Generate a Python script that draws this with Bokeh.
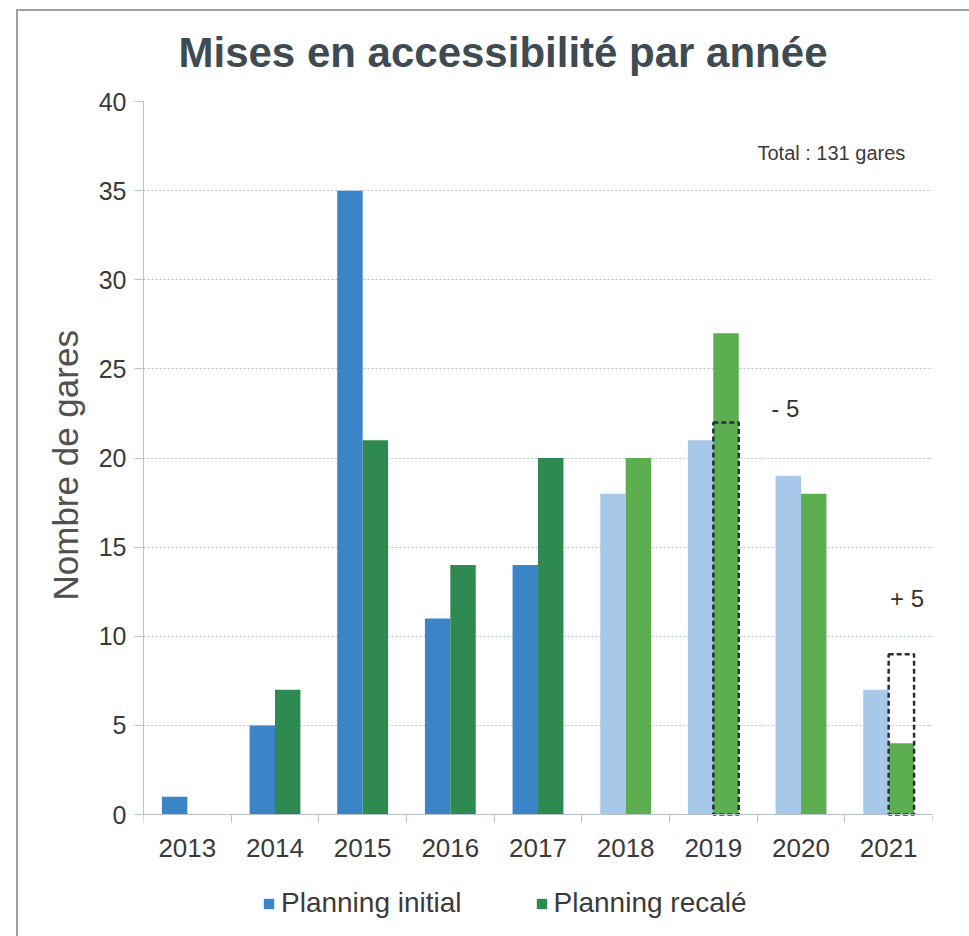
from bokeh.plotting import figure
from bokeh.models import (ColumnDataSource, FixedTicker, Label, Legend, LegendItem,
                          Range1d, Title, GlobalInlineStyleSheet)
from bokeh.transform import dodge
from bokeh.embed import file_html
from bokeh.resources import INLINE

# ---------------- data ----------------
years = ["2013", "2014", "2015", "2016", "2017", "2018", "2019", "2020", "2021"]
planning_initial = [1, 5, 35, 11, 14, 18, 21, 19, 7]
planning_recale = [0, 7, 21, 14, 20, 20, 27, 18, 4]
initial_colors = ["#3b84c8", "#3b84c8", "#3b84c8", "#3b84c8", "#3b84c8",
                  "#a8c8ea", "#a8c8ea", "#a8c8ea", "#a8c8ea"]
recale_colors = ["#2e8a50", "#2e8a50", "#2e8a50", "#2e8a50", "#2e8a50",
                 "#5cae50", "#5cae50", "#5cae50", "#5cae50"]
adj_years = ["2019", "2021"]
adj_shift = [-5, 5]
adj_texts = ["- 5", "+ 5"]
y_ticks = [0, 5, 10, 15, 20, 25, 30, 35, 40]
total_text = "Total : 131 gares"
title_text = "Mises en accessibilité par année"
y_label = "Nombre de gares"

# ---------------- sources ----------------
idx = [i + 0.5 for i in range(len(years))]
src = ColumnDataSource(dict(x=idx, year=years, initial=planning_initial,
                            recale=planning_recale, c_init=initial_colors,
                            c_rec=recale_colors))
adj_x = [idx[years.index(y)] for y in adj_years]
adj_top = [planning_recale[years.index(y)] + s for y, s in zip(adj_years, adj_shift)]
adj_src = ColumnDataSource(dict(x=adj_x, top=adj_top, txt=adj_texts))

W, H = 969, 936
frame_css = GlobalInlineStyleSheet(css="""
body::before { content: ""; position: fixed; left: 16px; top: 9px; right: -20px; bottom: -20px;
  border-left: 2px solid #a0a0a0; border-top: 2px solid #a0a0a0; pointer-events: none; z-index: 5; }
""")
# the frame reaches the bottom of the canvas so that the legend below the axis is drawn
p = figure(width=W, height=H, x_range=Range1d(0, len(years)), y_range=Range1d(-6.84, 40),
           output_backend="svg", toolbar_location=None,
           min_border_left=143, min_border_right=37, min_border_top=101,
           min_border_bottom=0, stylesheets=[frame_css])
p.outline_line_color = None
p.background_fill_color = "white"
p.border_fill_color = "white"

BW = 0.29
r_init = p.vbar(x=dodge("x", -BW / 2, range=p.x_range), top="initial", width=BW,
                source=src, fill_color="c_init", line_color=None)
r_rec = p.vbar(x=dodge("x", BW / 2, range=p.x_range), top="recale", width=BW,
               source=src, fill_color="c_rec", line_color=None)
p.vbar(x=dodge("x", BW / 2, range=p.x_range), top="top", bottom=0, width=BW,
       source=adj_src, fill_color=None, line_color="#24323f", line_width=2.5,
       line_dash="5 3")

# title
p.title.text = title_text
p.title.align = "left"
p.title.offset = 35
p.title.standoff = 51
p.title.text_font = "Liberation Sans"
p.title.text_font_size = "42px"
p.title.text_font_style = "bold"
p.title.text_color = "#3e4b52"

# axes
grid_col = "#b7c2cf"
p.xgrid.grid_line_color = None
p.ygrid.grid_line_color = grid_col
p.ygrid.grid_line_dash = "2 2"
p.ygrid.grid_line_width = 1.2
p.yaxis.ticker = FixedTicker(ticks=y_ticks)
p.ygrid.ticker = FixedTicker(ticks=y_ticks)
p.yaxis.bounds = (0, 40)
p.yaxis.axis_line_color = grid_col
p.yaxis.major_tick_line_color = grid_col
p.yaxis.major_tick_out = 9
p.yaxis.major_tick_in = 0
p.yaxis.minor_tick_line_color = None
p.yaxis.major_label_text_font = "Liberation Sans"
p.yaxis.major_label_text_font_size = "25px"
p.yaxis.major_label_text_color = "#3a3a3a"
p.yaxis.major_label_standoff = 8

# y axis title, aligned with the 0-40 part of the axis
p.add_layout(Title(text=y_label, align="left", offset=336, standoff=21,
                   text_font="Liberation Sans", text_font_size="35px",
                   text_font_style="normal", text_color="#505050"), "left")

p.xaxis.fixed_location = 0
p.xaxis.ticker = FixedTicker(ticks=idx, minor_ticks=list(range(len(years) + 1)))
p.xaxis.major_label_overrides = {x: y for x, y in zip(idx, years)}
p.xaxis.axis_line_color = grid_col
p.xaxis.major_tick_line_color = None
p.xaxis.major_tick_out = 0
p.xaxis.major_tick_in = 0
p.xaxis.minor_tick_line_color = grid_col
p.xaxis.minor_tick_out = 8
p.xaxis.minor_tick_in = 0
p.xaxis.major_label_text_font = "Liberation Sans"
p.xaxis.major_label_text_font_size = "26px"
p.xaxis.major_label_text_color = "#3a3a3a"
p.xaxis.major_label_standoff = 16

# annotations
p.add_layout(Label(x=8.69, y=37.1, text=total_text, text_align="right",
                   text_baseline="middle", text_font="Liberation Sans",
                   text_font_size="20px", text_color="#3a3a3a"))
for (lx, ly, t) in [(7.32, 22.8, adj_texts[0]), (8.71, 12.1, adj_texts[1])]:
    p.add_layout(Label(x=lx, y=ly, text=t, text_align="center",
                       text_baseline="middle", text_font="Liberation Sans",
                       text_font_size="24px", text_color="#333333"))

legend = Legend(items=[LegendItem(label="Planning initial", renderers=[r_init], index=0),
                       LegendItem(label="Planning recalé", renderers=[r_rec], index=1)],
                orientation="horizontal", location=(119, 17),
                glyph_width=13, glyph_height=13, label_standoff=6, spacing=73,
                padding=0, margin=0, border_line_alpha=0, background_fill_alpha=0,
                label_text_font="Liberation Sans", label_text_font_size="28px",
                label_text_color="#3a3a3a")
p.add_layout(legend, "center")

open("out.html", "w").write(file_html(p, INLINE))
